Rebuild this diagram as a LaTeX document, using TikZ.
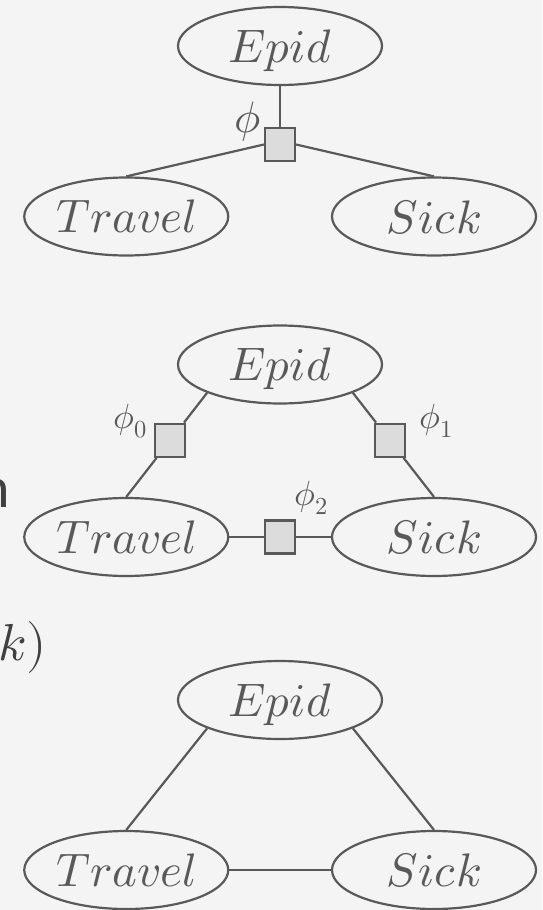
\documentclass[tikz,border=0pt]{standalone}
\usepackage{fontspec}
\usepackage{unicode-math}
\setmathfont{Latin Modern Math}
\newfontfamily\bodysans{Carlito}
\usetikzlibrary{shapes.geometric,calc}
\definecolor{ink}{HTML}{595959}
\definecolor{paper}{HTML}{F4F4F4}
\definecolor{factorfill}{HTML}{DCDCDC}
\definecolor{slidetext}{HTML}{404040}
\begin{document}
\begin{tikzpicture}[x=1pt,y=-1pt,
  var/.style={ellipse, draw=ink, line width=2.2pt, minimum width=204pt,
    minimum height=78pt, inner sep=0pt, text depth=0pt, text=ink,
    font=\fontsize{47}{50}\selectfont},
  factor/.style={rectangle, draw=ink, fill=factorfill, line width=2.2pt,
    minimum width=30pt, minimum height=33pt, inner sep=0pt},
  flabel/.style={text=ink, inner sep=0pt},
  edge/.style={draw=ink, line width=2.2pt}]

% canvas
\fill[paper] (0,0) rectangle (542,910);
\useasboundingbox (0,0) rectangle (542,910);
\clip (0,0) rectangle (542,910);

% text of the slide running off the left edge
\node[anchor=base east, inner sep=0pt, text=slidetext,
  font=\bodysans\fontsize{58}{66}\selectfont] (cutn) at (10,507) {n};
\node[anchor=base east, inner sep=0pt, text=slidetext,
  font=\fontsize{52}{60}\selectfont] (cutk) at (47,660) {$k)$};

% --- single factor over all three variables
\node[var] (e1) at (280,46) {$Epid$};
\node[var] (t1) at (126.25,216.5) {$Travel$};
\node[var] (s1) at (434,216.5) {$Sick$};
\node[factor] (f) at (280,144.5) {};
\draw[edge] (e1.south) -- (f.north);
\draw[edge] (f.west) -- (t1.north);
\draw[edge] (f.east) -- (s1.north);
\node[flabel, font=\fontsize{44}{48}\selectfont] (lf) at (247.5,122) {$\phi$};

% --- pairwise factors
\node[var] (e2) at (280,364.5) {$Epid$};
\node[var] (t2) at (126.25,537) {$Travel$};
\node[var] (s2) at (434,537) {$Sick$};
\node[factor] (f0) at ($(e2.south west)!0.455!(t2.north)$) {};
\node[factor] (f1) at ($(e2.south east)!0.455!(s2.north)$) {};
\node[factor] (f2) at ($(t2.east)!0.5!(s2.west)$) {};
\draw[edge] (e2.south west) -- (f0) -- (t2.north);
\draw[edge] (e2.south east) -- (f1) -- (s2.north);
\draw[edge] (t2) -- (f2) -- (s2);
\node[flabel, font=\fontsize{35}{40}\selectfont] (lf0) at (130,421) {$\phi_0$};
\node[flabel, font=\fontsize{35}{40}\selectfont] (lf1) at (436.5,421) {$\phi_1$};
\node[flabel, font=\fontsize{35}{40}\selectfont] (lf2) at (311,498) {$\phi_2$};

% --- Markov network
\node[var] (e3) at (280,700) {$Epid$};
\node[var] (t3) at (126.25,870) {$Travel$};
\node[var] (s3) at (434,870) {$Sick$};
\draw[edge] (e3.south west) -- (t3.north);
\draw[edge] (e3.south east) -- (s3.north);
\draw[edge] (t3) -- (s3);
\end{tikzpicture}
\end{document}
